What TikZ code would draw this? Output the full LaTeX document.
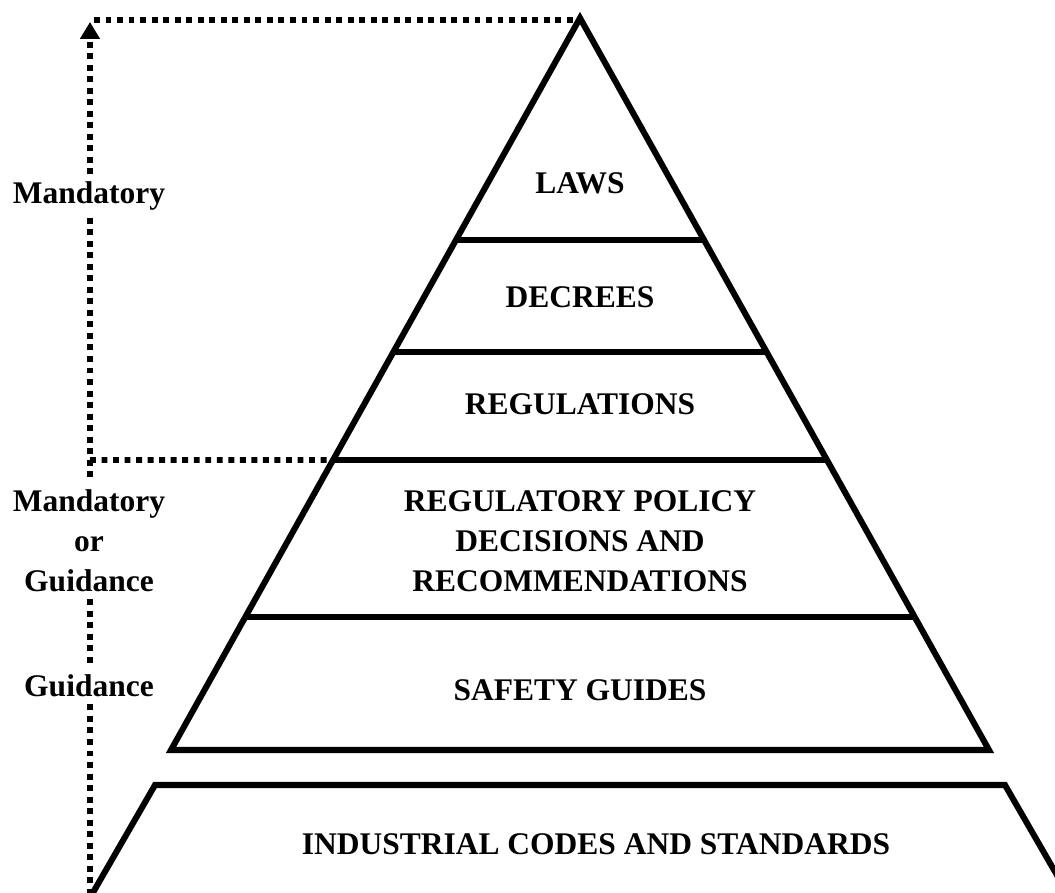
\documentclass[tikz,border=0pt]{standalone}
\usepackage{fontspec}
\setmainfont{Liberation Serif}
\usetikzlibrary{arrows.meta,calc}

\begin{document}
\begin{tikzpicture}[x=0.025cm,y=-0.025cm,
		pyr/.style={line width=4.3pt,line join=miter},
		dots/.style={line width=4.2pt,dash pattern=on 4.2pt off 4pt},
		txt/.style={font=\bfseries\fontsize{22.4}{28.3}\selectfont,align=center},
		lbl/.style={txt,fill=white,inner sep=5pt}]
		\useasboundingbox (0,0) rectangle (1055,893);

		% pyramid
		\coordinate (apex) at (580,18);
		\coordinate (bl) at (171,750);
		\coordinate (br) at (989,750);
		\draw[pyr] (apex) -- (bl) -- (br) -- cycle;
		\foreach \f in {0.3033,0.4563,0.6038,0.8183}
			\draw[pyr] ($(apex)!\f!(bl)$) -- ($(apex)!\f!(br)$);
		\coordinate (regl) at ($(apex)!0.6038!(bl)$);

		% base
		\draw[pyr] (91,896) -- (155,785) -- (1005,785) -- (1069,896);

		\node[txt] (laws) at (580,183) {LAWS};
		\node[txt] (decrees) at (580,297) {DECREES};
		\node[txt] (regs) at (580,404) {REGULATIONS};
		\node[txt] (policy) at (580,541) {REGULATORY POLICY\\DECISIONS AND\\RECOMMENDATIONS};
		\node[txt] (safety) at (580,690) {SAFETY GUIDES};
		\node[txt] (industry) at (596,844) {INDUSTRIAL CODES AND STANDARDS};

		% left scale
		\node[lbl] (mand) at (89,196) {Mandatory};
		\node[lbl] (mandguid) at (89,541) {Mandatory\\or\\Guidance};
		\node[lbl] (guid) at (89,686) {Guidance};
		\coordinate (tip) at (90,22);
		\coordinate (corner) at (94,20);
		\coordinate (foot) at (90,893);

		\draw[dots,-{Triangle[width=13.5pt,length=12pt]}] (mand.north -| tip) -- (tip);
		\draw[dots] (corner) -- (apex |- corner);
		\draw[dots] (mand.south -| tip) -- (mandguid.north -| tip);
		\draw[dots] (90,460) -- (regl);
		\draw[dots] (mandguid.south -| tip) -- (guid.north -| tip);
		\draw[dots] (guid.south -| tip) -- (foot);
\end{tikzpicture}
\end{document}
